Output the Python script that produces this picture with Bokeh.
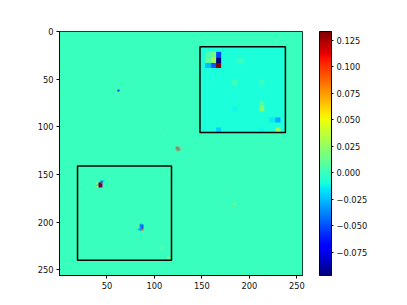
import numpy as np
from bokeh.plotting import figure
from bokeh.models import (LinearColorMapper, ColorBar, FixedTicker, Range1d,
                          CustomJSTickFormatter)
from bokeh.embed import file_html
from bokeh.resources import INLINE

# ---------------- data ----------------
N = 256
vmin, vmax = -0.097, 0.1335

# fine-resolution spots: x (col), y (row), side, value
spot_x = [43, 45, 39, 41, 43, 39, 41, 43, 39, 41, 43,
          82, 84, 86, 82, 84, 86, 82, 84, 86, 82, 84, 86,
          61, 62, 183,
          57, 71, 75, 108, 119, 125, 28, 114, 28, 106, 114]
spot_y = [156, 156, 158, 158, 158, 160, 160, 160, 162, 162, 162,
          201, 201, 201, 203, 203, 203, 205, 205, 205, 207, 207, 207,
          61, 63, 180,
          56, 71, 75, 107, 117, 119, 150, 150, 164, 227, 236]
spot_s = [2, 2, 2, 2, 2, 2, 2, 2, 2, 2, 2,
          2, 2, 2, 2, 2, 2, 2, 2, 2, 2, 2, 2,
          2, 1, 2,
          1, 1, 1, 2, 1, 1, 2, 2, 2, 2, 2]
spot_v = [-0.045, -0.02, 0.05, -0.09, 0.11, -0.03, 0.12, -0.095, 0.05, -0.08, 0.12,
          0.01, -0.02, -0.01, 0.01, -0.04, -0.05, 0.005, -0.03, -0.05, -0.02, -0.04, 0.09,
          -0.055, 0.07, 0.055,
          0.012, 0.01, 0.012, 0.01, -0.015, 0.015, 0.012, 0.01, 0.008, 0.02, 0.03]

# mixed (grey-looking) patch near the diagonal
mix_x0, mix_y0 = 122, 121
mix_vals = [[0.07, -0.045, 0.06, -0.04, 0.05],
            [-0.04, 0.07, -0.05, 0.06, -0.03],
            [0.06, -0.05, 0.07, -0.045, 0.06],
            [-0.03, 0.06, -0.04, 0.07, -0.04],
            [0.05, -0.03, 0.06, -0.03, 0.04]]

# coarse 16x16 patch inside the top-right box
patch_x0, patch_y0, patch_w = 148, 16, 90
patch_n = 16
patch_bg = -0.008
patch_r = [1, 1, 1, 2, 2, 2, 3, 3, 3, 13, 15, 10, 11, 15, 11, 13, 6, 6, 2, 15]
patch_c = [1, 2, 3, 1, 2, 3, 1, 2, 3, 14, 14, 11, 11, 3, 6, 13, 6, 11, 7, 11]
patch_v = [0.006, 0.016, -0.053, 0.01, 0.028, -0.097, -0.025, -0.046, 0.1335,
           -0.03, 0.025, 0.008, 0.02, -0.02, -0.012, -0.015, 0.002, 0.0, 0.0, -0.012]

# boxes: left, right, top, bottom
box_l = [148, 19]
box_r = [238, 118]
box_t = [16, 141]
box_b = [106, 240]

y_ticks = [0, 50, 100, 150, 200, 250]
x_ticks = [50, 100, 150, 200, 250]
cb_ticks = [-0.075, -0.050, -0.025, 0.000, 0.025, 0.050, 0.075, 0.100, 0.125]

# ---------------- build arrays ----------------
img = np.zeros((N, N))
for x, y, s, v in zip(spot_x, spot_y, spot_s, spot_v):
    img[y:y + s, x:x + s] = v
mv = np.array(mix_vals)
img[mix_y0:mix_y0 + mv.shape[0], mix_x0:mix_x0 + mv.shape[1]] = mv

patch = np.full((patch_n, patch_n), patch_bg)
for r, c, v in zip(patch_r, patch_c, patch_v):
    patch[r, c] = v

# matplotlib "jet" palette
def _interp(x, pts):
    xs = [p[0] for p in pts]
    ys = [p[1] for p in pts]
    return np.interp(x, xs, ys)

_t = np.linspace(0, 1, 256)
_r = _interp(_t, [(0, 0), (0.35, 0), (0.66, 1), (0.89, 1), (1, 0.5)])
_g = _interp(_t, [(0, 0), (0.125, 0), (0.375, 1), (0.64, 1), (0.91, 0), (1, 0)])
_b = _interp(_t, [(0, 0.5), (0.11, 1), (0.34, 1), (0.65, 0), (1, 0)])
jet = ["#%02x%02x%02x" % (int(round(r * 255)), int(round(g * 255)), int(round(b * 255)))
       for r, g, b in zip(_r, _g, _b)]

mapper = LinearColorMapper(palette=jet, low=vmin, high=vmax)

FONT = "DejaVu Sans"
FS = "8.3px"

p = figure(output_backend="svg", toolbar_location=None,
           x_range=Range1d(0, N), y_range=Range1d(N, 0),
           frame_width=243, frame_height=244,
           min_border_left=59, min_border_top=31, min_border_bottom=26,
           min_border_right=10)
p.background_fill_color = "white"
p.border_fill_color = "white"
p.grid.visible = False
p.outline_line_color = "black"
p.outline_line_width = 1

p.image(image=[img], x=0, y=0, dw=N, dh=N, color_mapper=mapper)
p.image(image=[patch], x=patch_x0, y=patch_y0, dw=patch_w, dh=patch_w, color_mapper=mapper)
p.quad(left=box_l, right=box_r, top=box_t, bottom=box_b,
       fill_alpha=0, line_color="black", line_width=1.5)

for ax in (p.xaxis[0], p.yaxis[0]):
    ax.major_label_text_font = FONT
    ax.major_label_text_font_size = FS
    ax.major_label_text_color = "#111111"
    ax.axis_line_color = "black"
    ax.major_tick_line_color = "black"
    ax.major_tick_out = 3
    ax.major_tick_in = 0
    ax.minor_tick_line_color = None
    ax.major_label_standoff = 3
p.xaxis.ticker = FixedTicker(ticks=x_ticks)
p.yaxis.ticker = FixedTicker(ticks=y_ticks)

cb = ColorBar(color_mapper=mapper, ticker=FixedTicker(ticks=cb_ticks),
              formatter=CustomJSTickFormatter(code="return (tick < 0 ? '\u2212' : '') + Math.abs(tick).toFixed(3);"),
              width=12, height=244, padding=0, margin=0, location=(17, 0),
              bar_line_color="black", bar_line_width=1,
              major_tick_line_color="black", major_tick_out=2, major_tick_in=0,
              minor_tick_line_color=None,
              major_label_text_font=FONT, major_label_text_font_size=FS,
              major_label_text_color="#111111", label_standoff=3,
              background_fill_alpha=0, border_line_color=None)
p.add_layout(cb, "right")

open("out.html", "w").write(file_html(p, INLINE))
